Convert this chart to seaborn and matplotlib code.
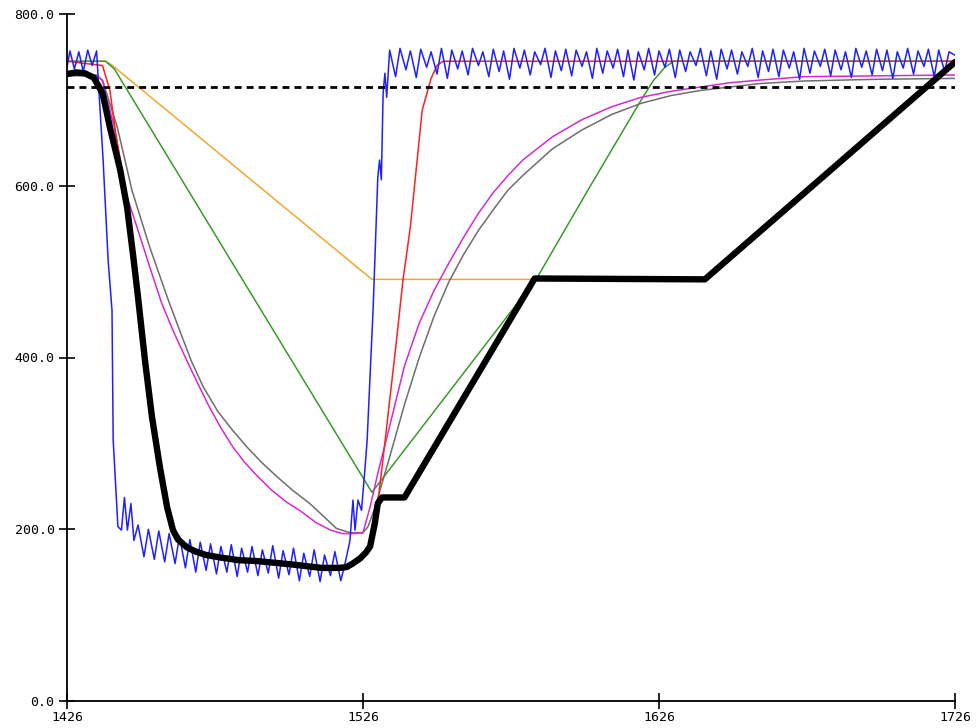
import matplotlib
matplotlib.use("Agg")
import matplotlib.pyplot as plt
from matplotlib.ticker import FormatStrFormatter
import seaborn as sns

# threshold (dashed)
threshold = 715

# orange
orange_x = [1426, 1439, 1441, 1529, 1641]
orange_y = [745, 745, 741, 491, 491]

# green
green_x = [1426, 1439, 1442, 1529, 1585, 1602, 1620, 1624, 1628, 1631, 1726]
green_y = [745, 745, 736, 243, 494, 595, 700, 722, 738, 745, 745]

# red
red_x = [1426, 1438, 1440.5, 1442.5, 1444.5, 1446.5, 1448.5, 1450.3, 1452.7, 1455, 1457.7, 1460.1,
         1462.1, 1466.8, 1473, 1484, 1496, 1507, 1518, 1524, 1528, 1531, 1533.5, 1535, 1537,
         1539.5, 1542, 1546, 1549, 1551, 1553, 1726]
red_y = [745, 740, 711, 660, 620, 575, 520, 470, 395, 331, 272, 226,
         199, 179, 171, 165, 161, 157, 156, 162, 178, 230, 304, 350, 410,
         490, 552, 688, 725, 740, 745, 745]

# black (thick)
black_x = [1426, 1429, 1432, 1435, 1438, 1440.5, 1444, 1446.3, 1448.3, 1450, 1452.4, 1454.7, 1457.4,
           1459.8, 1461.8, 1463.5, 1466.5, 1469.5, 1473, 1478, 1484, 1490, 1496, 1502, 1507,
           1512, 1518, 1520.5, 1522.5, 1525, 1527, 1528.4, 1530, 1531, 1532.4, 1540, 1584,
           1641.5, 1726]
black_y = [730, 732, 731, 726, 708, 668, 618, 575, 520, 470, 395, 331, 272,
           226, 199, 188, 179, 174, 170, 167, 164, 163, 161, 159, 157,
           155, 155, 156, 160, 166, 173, 180, 207, 230, 237, 237, 492,
           491, 744]

# magenta
magenta_x = [1426, 1436, 1438, 1442, 1446, 1450, 1454, 1458, 1462, 1466, 1470, 1474, 1478, 1482,
             1486, 1490, 1495, 1500, 1505, 1510, 1515, 1519, 1523, 1526, 1528.4, 1531, 1535,
             1540, 1545, 1550, 1555, 1560, 1565, 1570, 1575, 1580, 1590, 1600, 1610, 1620, 1630,
             1640, 1650, 1660, 1675, 1700, 1726]
magenta_y = [729, 729, 722, 668, 590, 548, 505, 463, 430, 400, 371, 343, 318, 296,
             278, 263, 246, 232, 221, 208, 199, 195, 195, 196, 226, 265, 320,
             390, 440, 478, 510, 540, 568, 592, 612, 630, 657, 677, 692, 703, 710,
             715, 720, 723, 727, 728, 729]

# gray
gray_x = [1426, 1436, 1438, 1443, 1448, 1454, 1460, 1464, 1468, 1472, 1477, 1482, 1487, 1492,
          1497, 1502, 1508, 1513, 1517, 1521.6, 1526, 1527.7, 1530, 1535, 1540, 1545, 1550,
          1555, 1560, 1565, 1570, 1575, 1580, 1590, 1600, 1610, 1620, 1630, 1640, 1650, 1660,
          1675, 1700, 1726]
gray_y = [728, 728, 723, 668, 594, 528, 469, 432, 396, 366, 337, 315, 295, 277,
          261, 246, 230, 214, 201, 196, 196, 203, 225, 284, 345, 400, 448,
          488, 520, 548, 572, 595, 612, 643, 665, 683, 696, 705, 711, 715, 719,
          722, 724, 725]

# blue, in four stretches
blue_drop_x = [1426, 1427, 1428.5, 1430, 1431.5, 1433, 1434.5, 1436, 1436.7, 1438.2, 1439.9,
               1441.2, 1441.6, 1443.2, 1444.4, 1445.4, 1446.4, 1447.6, 1448.6]
blue_drop_y = [738, 757, 736, 756, 733, 758, 740, 757, 715, 630, 513,
               455, 304, 203, 199, 237, 199, 230, 187]

blue_low_x = [1450, 1452, 1453.5, 1455.5, 1457, 1459, 1460.5, 1462.5, 1464, 1466, 1467.5, 1469.5,
              1471, 1473, 1474.5, 1476.5, 1478, 1480, 1481.5, 1483.5, 1485, 1487, 1488.5, 1490.5,
              1492, 1494, 1495.5, 1497.5, 1499, 1501, 1502.5, 1504.5, 1506, 1508, 1509.5, 1511.5,
              1513, 1515, 1516.5, 1518.5, 1520]
blue_low_y = [205, 168, 200, 165, 198, 162, 195, 160, 192, 155, 188, 150,
              185, 152, 183, 148, 180, 150, 182, 145, 178, 150, 180, 146,
              176, 149, 181, 143, 175, 147, 178, 140, 172, 145, 176, 139,
              170, 146, 174, 140, 161]

blue_rise_x = [1521.6, 1522.6, 1523.3, 1524.3, 1525.5, 1526.7, 1527.4, 1529.4, 1531, 1531.6,
               1532.2, 1532.8, 1533.4, 1534]
blue_rise_y = [187, 234, 199, 234, 222, 272, 304, 455, 610, 630,
               607, 708, 731, 703]

blue_high_x = [1535, 1537, 1538.5, 1540.5, 1542, 1544, 1545.5, 1547.5, 1549, 1551,
               1552.5, 1554.5, 1556, 1558, 1559.5, 1561.5, 1563, 1565, 1566.5, 1568.5,
               1570, 1572, 1573.5, 1575.5, 1577, 1579, 1580.5, 1582.5, 1584, 1586,
               1587.5, 1589.5, 1591, 1593, 1594.5, 1596.5, 1598, 1600, 1601.5, 1603.5,
               1605, 1607, 1608.5, 1610.5, 1612, 1614, 1615.5, 1617.5, 1619, 1621,
               1622.5, 1624.5, 1626, 1628, 1629.5, 1631.5, 1633, 1635, 1636.5, 1638.5,
               1640, 1642, 1643.5, 1645.5, 1647, 1649, 1650.5, 1652.5, 1654, 1656,
               1657.5, 1659.5, 1661, 1663, 1664.5, 1666.5, 1668, 1670, 1671.5, 1673.5,
               1675, 1677, 1678.5, 1680.5, 1682, 1684, 1685.5, 1687.5, 1689, 1691,
               1692.5, 1694.5, 1696, 1698, 1699.5, 1701.5, 1703, 1705, 1706.5, 1708.5,
               1710, 1712, 1713.5, 1715.5, 1717, 1719, 1720.5, 1722.5, 1724, 1726]
blue_high_y = [758, 727, 760, 735, 757, 726, 759, 738, 756, 730,
               760, 725, 758, 736, 757, 729, 760, 740, 756, 727,
               759, 733, 757, 724, 760, 737, 758, 729, 756, 741,
               760, 726, 757, 734, 759, 728, 758, 739, 756, 725,
               760, 731, 757, 737, 759, 727, 758, 723, 756, 735,
               760, 729, 757, 738, 759, 726, 758, 733, 756, 740,
               760, 728, 757, 724, 759, 736, 758, 730, 756, 739,
               760, 726, 757, 733, 759, 727, 758, 737, 756, 724,
               760, 731, 757, 739, 759, 728, 758, 735, 756, 726,
               760, 738, 757, 729, 759, 734, 758, 725, 756, 737,
               760, 730, 757, 739, 759, 727, 758, 733, 756, 752]

blue_x = blue_drop_x + blue_low_x + blue_rise_x + blue_high_x
blue_y = blue_drop_y + blue_low_y + blue_rise_y + blue_high_y

x_ticks = [1426, 1526, 1626, 1726]
y_ticks = [0, 200, 400, 600, 800]

sns.set_style("ticks")
plt.rcParams["font.family"] = ["DejaVu Sans Mono"]

fig = plt.figure(figsize=(9.76, 7.28), dpi=100)
ax = fig.add_axes([67 / 976, 27 / 728, 888 / 976, 687 / 728])

# draw order roughly like the reference
series = [
    (orange_x, orange_y, "#f0a830", 1.1),
    (green_x, green_y, "#3c9a2c", 1.1),
    (gray_x, gray_y, "#6e6e6e", 1.1),
    (magenta_x, magenta_y, "#d52ad5", 1.1),
    (red_x, red_y, "#ff2020", 1.1),
    (blue_x, blue_y, "#2020ff", 1.1),
    (black_x, black_y, "black", 4.6),
]
for xs, ys, c, lw in series:
    sns.lineplot(x=xs, y=ys, color=c, linewidth=lw, ax=ax, sort=False, estimator=None)

ax.axhline(threshold, color="black", linewidth=2.0, linestyle=(0, (2.5, 1.8)))

ax.set_xlim(1426, 1726)
ax.set_ylim(0, 800)
ax.set_xticks(x_ticks)
ax.set_yticks(y_ticks)
ax.yaxis.set_major_formatter(FormatStrFormatter("%.1f"))
ax.tick_params(direction="inout", length=12, width=1.2, labelsize=9.5, colors="black")
ax.tick_params(axis="x", pad=1)
ax.tick_params(axis="y", pad=3)
sns.despine(ax=ax)
for s in ["left", "bottom"]:
    ax.spines[s].set_linewidth(1.3)
    ax.spines[s].set_color("black")
ax.set_xlabel("")
ax.set_ylabel("")

fig.savefig("out.png", dpi=100)
